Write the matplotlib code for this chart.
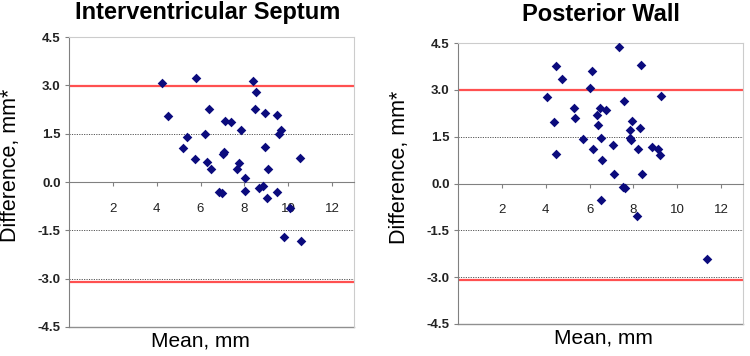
import numpy as np
import matplotlib
matplotlib.use("Agg")
from matplotlib import pyplot as plt

plt.rcParams['font.family'] = ['Liberation Sans', 'DejaVu Sans']

# Bland-Altman style data (mean, difference)
ivs_mean = [4.23, 4.5, 5.79, 6.38, 5.18, 5.38, 6.2, 5.74, 6.29, 6.47,
            7.12, 7.41, 7.02, 7.05, 7.86, 7.74, 7.65, 8.01, 8.41, 8.55,
            8.49, 8.94, 9.48, 9.66, 9.59, 8.92, 9.06, 10.55, 6.82, 7.0,
            8.05, 8.67, 8.83, 9.51, 9.01, 10.08, 9.82, 10.56]
ivs_diff = [3.08, 2.04, 3.24, 2.27, 1.06, 1.39, 1.5, 0.72, 0.63, 0.40,
            1.90, 1.85, 0.86, 0.94, 1.62, 0.60, 0.40, 0.12, 3.14, 2.79,
            2.27, 2.13, 2.07, 1.62, 1.49, 1.10, 0.41, 0.75, -0.30, -0.34,
            -0.27, -0.20, -0.12, -0.32, -0.50, -0.81, -1.71, -1.82]

pw_mean = [7.36, 4.47, 4.75, 6.09, 6.0, 8.35, 4.05, 9.26, 7.58, 5.30,
           6.49, 6.76, 6.35, 5.33, 4.39, 7.95, 6.40, 8.28, 7.83, 5.71,
           6.52, 7.83, 7.89, 6.14, 7.07, 8.21, 8.83, 9.14, 9.23, 4.45,
           6.57, 7.1, 8.41, 7.51, 7.62, 6.52, 8.15, 11.34]
pw_diff = [4.38, 3.76, 3.35, 3.62, 3.06, 3.81, 2.78, 2.82, 2.64, 2.42,
           2.41, 2.34, 2.18, 2.10, 1.97, 1.99, 1.86, 1.78, 1.71, 1.44,
           1.46, 1.47, 1.39, 1.10, 1.22, 1.10, 1.16, 1.11, 0.93, 0.94,
           0.76, 0.30, 0.30, -0.10, -0.13, -0.52, -1.03, -2.43]

titles = ["Interventricular Septum", "Posterior Wall"]
limits = [(2.98, -3.11), (2.99, -3.08)]   # red limits of agreement
dotted = [1.5, -1.5, -3.0]
yticks = [-4.5, -3.0, -1.5, 0.0, 1.5, 3.0, 4.5]
xticks = [2, 4, 6, 8, 10, 12]

fig = plt.figure(figsize=(7.5, 3.56), dpi=100)
boxes = [[0.092, 0.0815, 0.380, 0.8145], [0.6107, 0.0899, 0.380, 0.7891]]
title_pos = [(0.277, 0.947), (0.801, 0.942)]

for i, (xs, ys) in enumerate([(ivs_mean, ivs_diff), (pw_mean, pw_diff)]):
    ax = fig.add_axes(boxes[i])
    ax.set_xlim(0, 13)
    ax.set_ylim(-4.5, 4.5)

    for d in dotted:
        ax.axhline(d, color="#555555", lw=0.7, ls=(0, (1.2, 1.3)), zorder=1)
    up, lo = limits[i]
    ax.axhline(up, color="#ff5050", lw=1.6, zorder=2)
    ax.axhline(lo, color="#ff5050", lw=1.6, zorder=2)

    ax.scatter(xs, ys, marker="D", s=24, color="#0b0b7d", zorder=3, linewidths=0)

    # x axis drawn through zero, box kept round the plot area
    ax.spines['bottom'].set_position(('data', 0))
    ax.spines['bottom'].set_color("#808080")
    ax.spines['left'].set_color("#808080")
    ax.spines['top'].set_color("#cccccc")
    ax.spines['right'].set_color("#cccccc")
    ax.plot([0, 1], [0, 0], transform=ax.transAxes, color="#909090",
            lw=1.0, clip_on=False)

    ax.set_xticks(xticks)
    ax.set_xticklabels([str(t) for t in xticks], fontsize=9.5, color="#222222")
    ax.tick_params(axis='x', direction='out', length=3, pad=12, color="#808080")
    ax.set_yticks(yticks)
    ax.set_yticklabels(["%.1f" % t for t in yticks], fontsize=9.5,
                       fontweight='bold', color="#222222")
    ax.tick_params(axis='y', direction='out', length=3, pad=3, color="#808080")

    ax.set_xlabel("Mean, mm", fontsize=15)
    ax.xaxis.set_label_coords(0.46 if i == 0 else 0.51, -0.015)
    ax.xaxis.label.set_verticalalignment('top')
    ax.set_ylabel("Difference, mm*", fontsize=15.5)
    ax.yaxis.set_label_coords(-0.17, 0.557)

    fig.text(title_pos[i][0], title_pos[i][1], titles[i], fontsize=17,
             fontweight='bold', ha='center', va='baseline')

fig.savefig("out.png", dpi=100)
